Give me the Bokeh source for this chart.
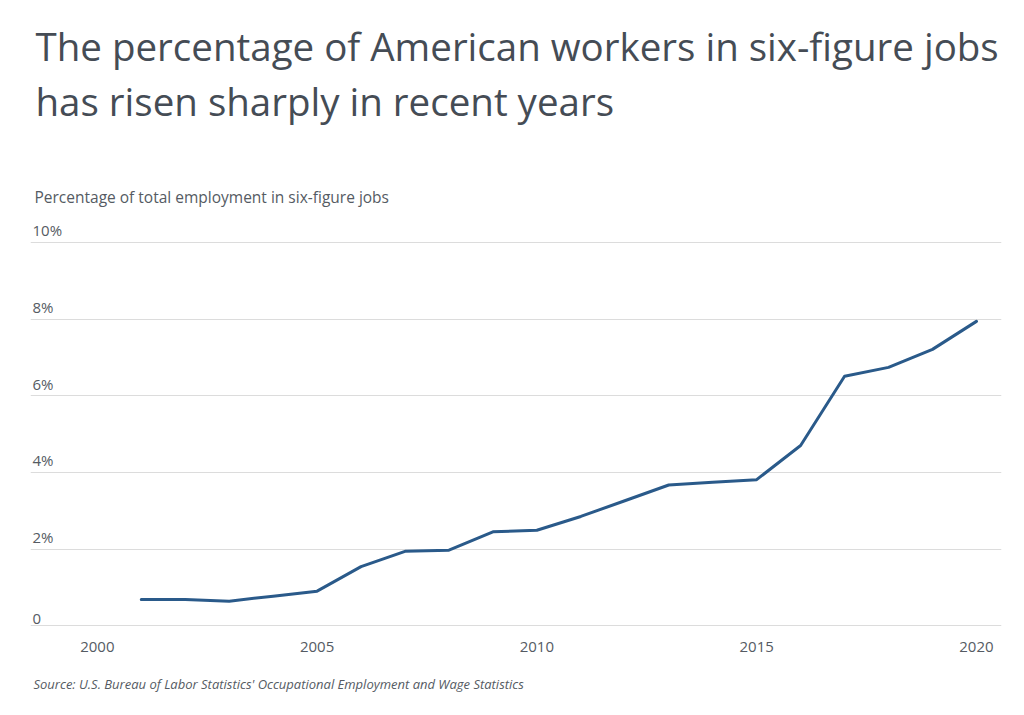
from bokeh.plotting import figure
from bokeh.models import Range1d, FixedTicker, Title, ColumnDataSource
from bokeh.core.properties import value
from bokeh.embed import file_html
from bokeh.resources import INLINE

years = [2001, 2002, 2003, 2004, 2005, 2006, 2007, 2008, 2009, 2010,
         2011, 2012, 2013, 2014, 2015, 2016, 2017, 2018, 2019, 2020]
pct = [0.68, 0.68, 0.64, 0.77, 0.90, 1.54, 1.94, 1.97, 2.45, 2.49,
       2.85, 3.26, 3.67, 3.74, 3.81, 4.70, 6.51, 6.74, 7.21, 7.94]
x_ticks = [2000, 2005, 2010, 2015, 2020]
y_ticks = [0, 2, 4, 6, 8, 10]
y_tick_labels = ["0", "2%", "4%", "6%", "8%", "10%"]

title_lines = ["The percentage of American workers in six-figure jobs",
               "has risen sharply in recent years"]
subtitle = "Percentage of total employment in six-figure jobs"
source_text = "Source:  U.S. Bureau of Labor Statistics' Occupational Employment and Wage Statistics"

FONT = "Open Sans"
TEXT = "#555b63"
TITLE = "#454c55"
LINE = "#2a5a8a"

W, H = 1024, 715
p = figure(width=W, height=H, output_backend="svg", toolbar_location=None,
           x_range=Range1d(1998.48, 2020.57), y_range=Range1d(-0.1, 12.66),
           y_axis_location=None,
           min_border_left=30, min_border_right=23, min_border_top=140,
           min_border_bottom=86)
p.outline_line_color = None
p.background_fill_color = "white"
p.border_fill_color = "white"

p.xgrid.visible = False
p.ygrid.ticker = FixedTicker(ticks=y_ticks)
p.ygrid.grid_line_color = "#dcdcdc"
p.ygrid.grid_line_width = 1

xa = p.xaxis[0]
xa.ticker = FixedTicker(ticks=x_ticks)
xa.axis_line_color = None
xa.major_tick_line_color = None
xa.minor_tick_line_color = None
xa.major_label_text_font = FONT
xa.major_label_text_font_size = "15px"
xa.major_label_text_color = TEXT
xa.major_label_standoff = 6

p.line(x=years, y=pct, line_color=LINE, line_width=3, line_join="round", line_cap="round")

lab_src = ColumnDataSource(dict(x=[p.x_range.start] * len(y_ticks), y=y_ticks, t=y_tick_labels))
p.text(x="x", y="y", text="t", source=lab_src, x_offset=2, y_offset=-2,
       text_baseline="bottom", text_align="left",
       text_font=value(FONT), text_font_size="15px", text_color=TEXT)

# subtitle drawn at the top edge of the plot area
p.text(x=[p.x_range.start], y=[p.y_range.end], text=[subtitle], x_offset=4, y_offset=56,
       text_baseline="alphabetic", text_align="left",
       text_font=value(FONT), text_font_size="15.5px", text_color=TEXT)

p.add_layout(Title(text="\n".join(title_lines), align="left", offset=5, standoff=26.6,
                   text_font=FONT, text_font_size="38.5px", text_font_style="normal",
                   text_line_height=1.07, text_color=TITLE), "above")

p.add_layout(Title(text=source_text, align="left", offset=3, standoff=37,
                   text_font=FONT, text_font_size="13px", text_font_style="italic",
                   text_color=TEXT), "below")

open("out.html", "w").write(file_html(p, INLINE))
